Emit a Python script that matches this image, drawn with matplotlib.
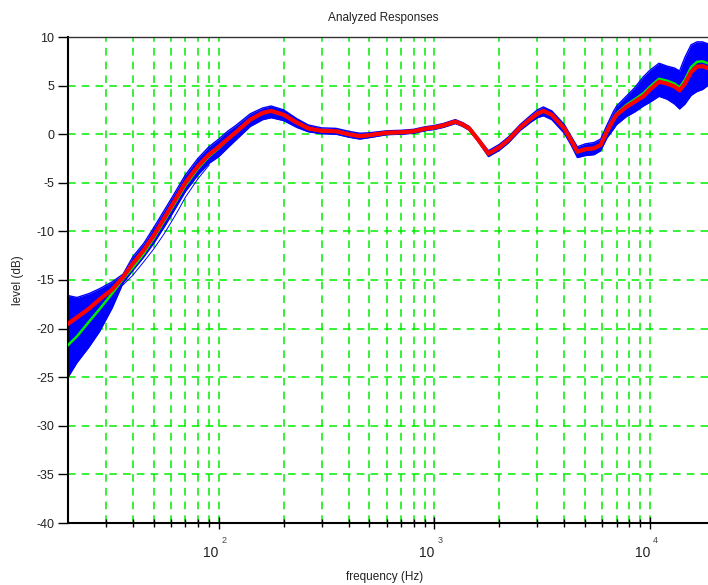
import matplotlib
matplotlib.use("Agg")
import matplotlib.pyplot as plt
from matplotlib.ticker import FixedLocator, NullFormatter
from matplotlib.transforms import blended_transform_factory

plt.rcParams['font.family'] = ['Liberation Sans', 'DejaVu Sans']
plt.rcParams['axes.unicode_minus'] = False

# frequencies (Hz) of the read-off points
freq = [20, 22, 25, 28, 32, 36, 40, 45, 50, 56, 60, 65, 70, 80, 90, 100, 110, 120, 140, 160,
        175, 200, 230, 260, 300, 350, 400, 450, 500, 600, 700, 800, 900, 1000, 1100, 1250,
        1350, 1450, 1600, 1780, 2000, 2200, 2500, 2800, 3000, 3200, 3500, 4000, 4300, 4600,
        5000, 5500, 5900, 6300, 6750, 7000, 7750, 8500, 9300, 10000, 11000, 12000, 13000,
        13700, 14500, 15500, 16500, 17500, 18500, 20000]

# red (mean) response, dB
mean_db = [-19.5, -18.85, -17.95, -17.0, -16.0, -14.7, -13.3, -11.9, -10.4, -8.6, -7.5, -6.2,
           -5.0, -3.3, -2.1, -1.3, -0.5, 0.2, 1.5, 2.2, 2.4, 2.0, 1.2, 0.6, 0.35, 0.3, 0.0,
           -0.2, -0.1, 0.15, 0.2, 0.3, 0.55, 0.7, 0.9, 1.3, 1.0, 0.6, -0.6, -2.0, -1.35, -0.6,
           0.7, 1.6, 2.1, 2.4, 2.0, 0.6, -0.6, -1.8, -1.55, -1.45, -1.1, 0.25, 1.46, 2.0, 2.8,
           3.35, 3.9, 4.6, 5.4, 5.2, 4.9, 4.5, 5.2, 6.4, 6.95, 7.0, 6.8, 6.6]

# green (nominal) response, dB
nominal_db = [-21.7, -20.8, -19.3, -18.0, -16.4, -14.9, -13.7, -12.25, -10.7, -8.9, -7.8, -6.5,
              -5.3, -3.55, -2.3, -1.45, -0.55, 0.15, 1.45, 2.15, 2.35, 1.95, 1.15, 0.55, 0.3,
              0.25, -0.05, -0.25, -0.15, 0.1, 0.15, 0.25, 0.5, 0.65, 0.85, 1.25, 0.95, 0.55,
              -0.65, -2.05, -1.4, -0.65, 0.65, 1.55, 2.05, 2.35, 1.95, 0.55, -0.65, -1.85,
              -1.6, -1.5, -1.15, 0.3, 1.56, 2.15, 3.0, 3.6, 4.2, 4.9, 5.7, 5.5, 5.2, 4.8, 5.6,
              6.9, 7.45, 7.5, 7.3, 7.1]

# upper / lower envelope of the blue bundle of responses, dB
band_hi = [-16.6, -16.8, -16.4, -15.9, -15.2, -14.4, -12.6, -11.2, -9.6, -7.8, -6.7, -5.4,
           -4.2, -2.5, -1.3, -0.5, 0.3, 0.9, 2.1, 2.7, 2.9, 2.5, 1.6, 0.95, 0.65, 0.6, 0.3,
           0.1, 0.15, 0.35, 0.4, 0.5, 0.75, 0.9, 1.1, 1.5, 1.2, 0.8, -0.4, -1.7, -1.05, -0.3,
           1.0, 1.95, 2.5, 2.8, 2.4, 1.0, -0.2, -1.3, -1.0, -0.85, -0.5, 0.9, 2.3, 2.9, 3.9,
           4.8, 5.9, 6.6, 7.3, 7.0, 6.8, 6.5, 7.9, 9.2, 9.5, 9.5, 9.3, 9.0]
band_lo = [-25.0, -23.5, -21.9, -20.3, -17.9, -15.3, -14.0, -12.6, -11.2, -9.5, -8.4, -7.1,
           -5.9, -4.2, -3.0, -2.3, -1.4, -0.6, 0.8, 1.5, 1.7, 1.4, 0.7, 0.25, 0.05, 0.0, -0.3,
           -0.5, -0.35, -0.05, 0.0, 0.1, 0.35, 0.5, 0.7, 1.1, 0.8, 0.4, -0.8, -2.3, -1.65, -0.9,
           0.4, 1.25, 1.7, 1.9, 1.5, 0.1, -1.1, -2.4, -2.2, -2.1, -1.7, -0.4, 0.5, 1.0, 1.8,
           2.3, 2.9, 3.3, 3.9, 3.6, 3.1, 2.6, 3.1, 4.0, 4.4, 4.6, 5.0, 5.0]

# a few stray low responses just under the bundle at low frequency
stray_freq = [36, 40, 45, 50, 56, 60, 65, 70, 80, 90]
stray_db = [-15.5, -14.5, -13.1, -11.8, -10.2, -9.1, -7.8, -6.5, -4.6, -3.2]

yticks = [-40, -35, -30, -25, -20, -15, -10, -5, 0, 5, 10]
decades = [100, 1000, 10000]

fig = plt.figure(figsize=(7.08, 5.85), dpi=100)
ax = fig.add_axes([68 / 708, 62 / 585, 647 / 708, 486 / 585])

ax.fill_between(freq, band_lo, band_hi, color='#0000ff', lw=0, zorder=2)
ax.plot(freq, band_hi, color='#0000ff', lw=1.0, zorder=2)
ax.plot(freq, band_lo, color='#0000ff', lw=1.0, zorder=2)
ax.plot(stray_freq, stray_db, color='#0000ff', lw=0.7, zorder=2)
ax.plot(freq, nominal_db, color='#00ee00', lw=1.8, zorder=3)
ax.plot(freq, mean_db, color='#ff0000', lw=3.0, zorder=4)

ax.set_xscale('log')
ax.set_xlim(20, 20000)
ax.set_ylim(-40, 10)

minor = [m * d for d in [10, 100, 1000, 10000] for m in range(2, 10)]
minor = [v for v in minor if 20 < v < 20000]
ax.xaxis.set_major_locator(FixedLocator(decades))
ax.xaxis.set_minor_locator(FixedLocator(minor))
ax.xaxis.set_major_formatter(NullFormatter())
ax.xaxis.set_minor_formatter(NullFormatter())
ax.set_yticks(yticks)

ax.grid(True, which='both', color='#00ee00', linestyle=(0, (5, 4)), lw=1.1, zorder=1)
ax.set_axisbelow(True)

for s in ['left', 'bottom']:
    ax.spines[s].set_linewidth(1.5)
ax.spines['top'].set_linewidth(1.0)
ax.spines['top'].set_color('#333333')
ax.spines['right'].set_visible(False)

ax.tick_params(axis='y', direction='out', length=7, width=1, pad=3,
               labelsize=9, labelcolor='#222222')
ax.tick_params(axis='x', which='major', direction='inout', length=8, width=1)
ax.tick_params(axis='x', which='minor', direction='inout', length=6, width=1)

tr = blended_transform_factory(ax.transData, ax.transAxes)
for d, e in zip(decades, ['2', '3', '4']):
    ax.text(d, -0.062, '10', transform=tr, ha='right', va='center',
            fontsize=10, color='#222222')
    ax.text(d * 1.03, -0.036, e, transform=tr, ha='left', va='center',
            fontsize=6.5, color='#444444')

fig.text(383 / 708, 1 - 18 / 585, 'Analyzed Responses', ha='center', va='center',
         fontsize=8.5, color='#222222')
fig.text(385 / 708, 1 - 577 / 585, 'frequency (Hz)', ha='center', va='center',
         fontsize=8.5, color='#222222')
fig.text(18 / 708, 1 - 280 / 585, 'level (dB)', ha='center', va='center',
         rotation=90, fontsize=8.5, color='#222222')

fig.savefig('out.png', dpi=100)
